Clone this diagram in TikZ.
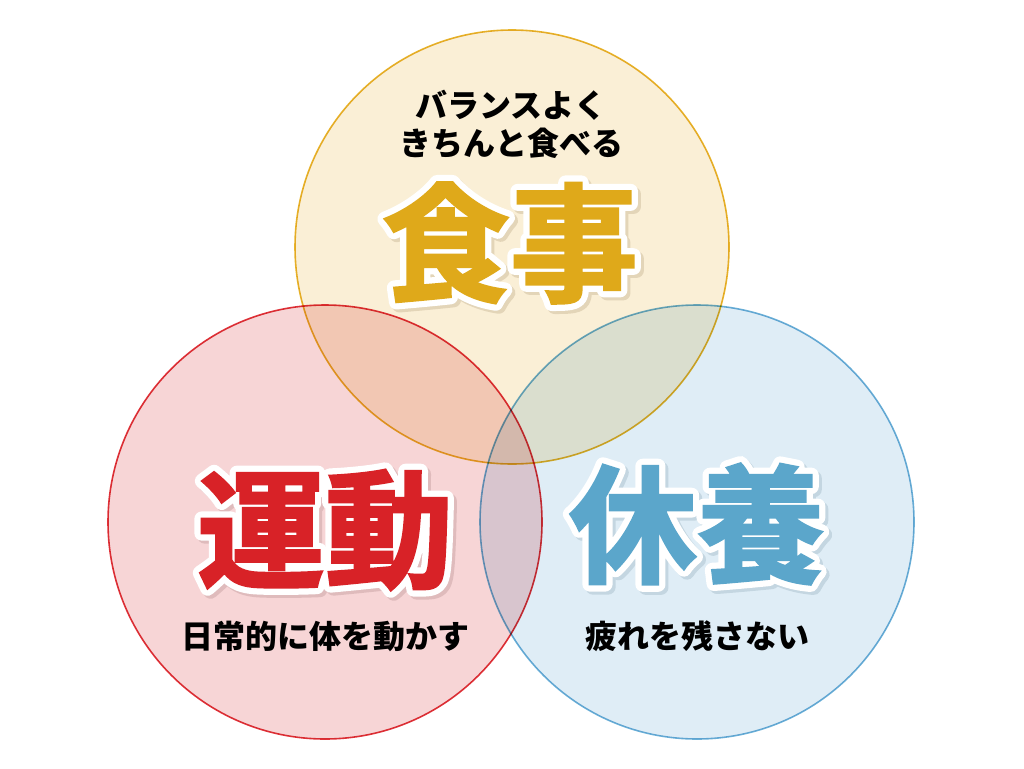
\documentclass[tikz,border=0pt]{standalone}
\usepackage{fontspec}
\usetikzlibrary{calc}
\newfontfamily\jpfont{Noto Sans CJK JP}
\newfontfamily\jprim{Noto Sans CJK JP Bold}
\newfontfamily\jpheavy{Noto Sans CJK JP Bold}[FakeBold=2]

\definecolor{mealfill}{HTML}{FAEFD6}
\definecolor{mealline}{HTML}{E8B42A}
\definecolor{mealtext}{HTML}{DFA91A}
\definecolor{mealshade}{HTML}{E3D5B8}
\definecolor{movefill}{HTML}{F7D5D6}
\definecolor{moveline}{HTML}{E0333A}
\definecolor{movetext}{HTML}{D82227}
\definecolor{moveshade}{HTML}{DFBBBC}
\definecolor{restfill}{HTML}{DFEDF6}
\definecolor{restline}{HTML}{6BB0D8}
\definecolor{resttext}{HTML}{5BA6CB}
\definecolor{restshade}{HTML}{C4D6E1}

\tikzset{
  ring/.style = {circle, minimum size=434pt, inner sep=0pt, line width=1.6pt, blend mode=multiply},
  kanji/.style = {font=\jpheavy\fontsize{128}{128}\selectfont, inner sep=0pt},
  rim/.style = {font=\jprim\fontsize{128}{128}\selectfont, inner sep=0pt},
  caption/.style = {font=\jpfont\bfseries\fontsize{32}{38}\selectfont, align=center, inner sep=0pt},
}

% stroked copy of a word, for the rim and the shadow
\newcommand\rimtext[1]{\special{pdf:literal direct 2 Tr 15 w 1 j 1 J}#1\special{pdf:literal direct 0 Tr 1 w}}

\begin{document}
\begin{tikzpicture}[x=1pt, y=-1pt]
    \useasboundingbox (0,0) rectangle (1024,768);
    \node[ring, draw=mealline, fill=mealfill] (meal) at (512,247) {};
    \node[ring, draw=moveline, fill=movefill] (move) at (325,522) {};
    \node[ring, draw=restline, fill=restfill] (rest) at (697,522) {};

    % big words
    \node[rim, text=mealshade] (mealshadow) at (513,246) {\rimtext{食事}};
    \node[rim, text=white] (mealrim) at (510,243) {\rimtext{食事}};
    \node[kanji, text=mealtext] (mealword) at (510,243) {食事};

    \node[rim, text=moveshade] (moveshadow) at (328,533) {\rimtext{運動}};
    \node[rim, text=white] (moverim) at (325,530) {\rimtext{運動}};
    \node[kanji, text=movetext] (moveword) at (325,530) {運動};

    \node[rim, text=restshade] (restshadow) at (700,527) {\rimtext{休養}};
    \node[rim, text=white] (restrim) at (697,524) {\rimtext{休養}};
    \node[kanji, text=resttext] (restword) at (697,524) {休養};

    \node[caption] (mealnote) at (511,124) {バランスよく\\きちんと食べる};
    \node[caption] (movenote) at (325,636) {日常的に体を動かす};
    \node[caption] (restnote) at (697,636) {疲れを残さない};
\end{tikzpicture}
\end{document}
